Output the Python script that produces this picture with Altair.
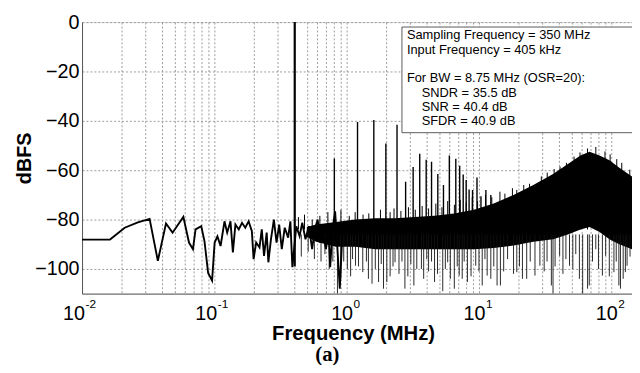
import altair as alt
import pandas as pd

# ---------------- data ----------------
# low-frequency part of the spectrum (single visible trace), MHz / dBFS
lf_freq = [0.0100, 0.01627, 0.0210, 0.0264, 0.0324, 0.0374, 0.0431, 0.0483,
           0.0583, 0.0643, 0.0689, 0.0721, 0.0796, 0.0842, 0.0897, 0.0961,
           0.1005, 0.1055, 0.1114, 0.1193, 0.1250, 0.1324, 0.1380, 0.1443,
           0.1529, 0.1618, 0.1713, 0.1815, 0.1921, 0.1979, 0.2070, 0.2194,
           0.2282, 0.2374, 0.2486, 0.2560, 0.2677, 0.2818, 0.2951, 0.3090,
           0.3233, 0.3404, 0.3610, 0.3755, 0.3887, 0.4163, 0.4406, 0.4616,
           0.4884, 0.5177, 0.5480, 0.5740, 0.6040, 0.6290, 0.6590, 0.6970,
           0.7300, 0.7504, 0.7820, 0.8180, 0.8520, 0.8870, 0.9290]
lf_db = [-88.1, -88.1, -83.3, -81.1, -79.7, -96.7, -81.6, -85.3,
         -78.9, -89.3, -92.0, -84.0, -82.7, -88.7, -101.6, -104.7,
         -89.3, -86.8, -90.7, -80.7, -85.3, -80.7, -93.3, -82.0,
         -84.0, -81.3, -83.3, -80.7, -84.7, -96.0, -89.3, -91.3,
         -84.0, -94.7, -85.3, -97.3, -88.0, -80.0, -89.3, -82.0,
         -92.0, -83.3, -87.3, -80.7, -99.3, -82.7, -86.7, -81.3,
         -88.0, -82.7, -92.0, -84.0, -80.0, -89.3, -84.7, -92.0,
         -85.3, -99.3, -84.0, -76.7, -92.0, -108.0, -85.3]

# dense noise region: solid core between an upper and a lower envelope
band_freq = [0.50, 0.587, 0.828, 1.167, 1.646, 2.321, 3.27, 4.61,
             6.50, 9.17, 12.93, 18.24, 25.74, 36.3, 47.0, 58.5, 68.5,
             81.5, 96.8, 115.0, 143.4]
band_hi = [-83.0, -82.0, -81.0, -80.0, -79.5, -79.5, -79.0, -78.5,
           -77.5, -76.0, -73.5, -70.0, -66.0, -61.5, -57.5, -54.0, -52.5,
           -54.0, -56.0, -59.0, -62.5]
band_lo = [-87.0, -89.0, -91.0, -91.0, -92.0, -92.0, -92.0, -92.0,
           -92.0, -92.0, -91.5, -90.5, -89.0, -88.0, -86.0, -84.0, -83.0,
           -85.0, -88.0, -90.0, -92.0]

# input tone
tone_freq = [0.405]
tone_top = [0.0]
tone_bottom = [-99.0]

# harmonic / spur peaks
spike_freq = [0.807, 1.208, 1.604, 1.978, 2.402, 2.79, 3.18, 3.566, 3.99,
              4.38, 4.885, 5.39, 5.97, 6.68, 7.15, 7.60, 8.00, 8.42, 8.94,
              9.66, 10.35, 11.28, 12.29]
spike_top = [-55.3, -40.5, -39.7, -49.2, -41.6, -64.7, -58.7, -53.3, -55.8,
             -56.6, -61.5, -66.0, -54.0, -55.4, -58.2, -61.7, -64.0, -67.8, -68.0,
             -63.0, -70.5, -68.0, -70.0]

# ragged upper fringe of the noise floor
fringe_freq = [0.432, 0.48, 0.549, 0.627, 0.721, 0.905, 1.046, 1.159, 1.33,
               1.47, 1.80, 2.13, 2.28, 2.57, 2.93, 3.30, 3.72, 4.16, 4.72,
               5.25, 5.80, 6.52, 7.22, 8.01, 8.89, 9.76, 11.2, 12.5, 14.4,
               15.7, 17.9, 19.3, 21.8, 24.1, 29.6, 32.8, 37.0, 41.0, 45.8,
               52.3, 58.0, 66.1, 76.4, 89.6, 98.0, 110.0, 120.0, 138.0]
fringe_top = [-79.0, -78.0, -80.0, -78.5, -77.0, -76.0, -78.5, -77.0, -78.0,
              -77.5, -76.0, -77.0, -75.5, -76.5, -75.0, -76.0, -74.5, -75.5, -73.5,
              -75.0, -72.5, -74.0, -72.0, -73.0, -71.0, -72.5, -70.0, -71.0, -68.7,
              -69.5, -67.3, -68.0, -66.0, -65.5, -62.5, -61.0, -59.5, -58.5, -57.0,
              -54.5, -52.8, -51.2, -50.6, -52.4, -53.6, -55.5, -57.0, -59.8]

# downward noise dips below the core
dip_freq = [0.454, 0.512, 0.570, 0.640, 0.685, 0.738, 0.786, 0.852, 0.902,
            0.950, 1.012, 1.071, 1.108, 1.167, 1.229, 1.323, 1.41, 1.46,
            1.555, 1.646, 1.742, 1.825, 1.898, 2.012, 2.13, 2.24, 2.321,
            2.486, 2.618, 2.756, 2.90, 3.055, 3.22, 3.388, 3.672, 3.82,
            4.03, 4.16, 4.38, 4.615, 4.86, 5.323, 5.57, 5.80, 6.075, 6.51,
            6.85, 7.09, 7.47, 7.73, 8.18, 8.71, 9.45, 10.0, 10.58, 11.09,
            11.53, 12.29, 12.94, 13.70, 14.52, 15.37, 16.45, 18.25, 19.31,
            20.23, 21.3, 22.94, 24.4, 26.50, 28.87, 31.1, 32.7, 35.24, 36.28,
            37.6, 40.71, 43.1, 45.4, 48.33, 51.2, 53.9, 57.41, 60.76, 66.21,
            68.18, 72.1, 76.35, 80.0, 85.67, 90.69, 96.6, 104.7, 109.0, 114.1,
            117.3, 123.0, 127.8, 131.6, 138.6]
dip_bottom = [-95.0, -93.0, -96.0, -97.0, -94.0, -100.0, -97.0, -110.0, -104.0,
              -97.0, -100.0, -103.0, -96.0, -98.7, -99.0, -101.3, -97.0, -104.0,
              -106.0, -100.0, -105.3, -98.0, -108.0, -105.3, -103.0, -99.0, -97.3,
              -102.0, -97.0, -108.0, -103.0, -98.0, -106.7, -100.0, -100.0, -104.0,
              -96.0, -101.0, -97.0, -105.3, -102.0, -109.0, -100.0, -97.3, -104.0, -108.0,
              -99.0, -102.7, -104.0, -97.0, -105.3, -103.0, -98.7, -101.0, -106.7, -96.0,
              -102.7, -104.0, -99.0, -106.7, -106.7, -101.0, -96.0, -102.0, -101.3,
              -99.0, -104.0, -104.0, -97.0, -102.7, -98.7, -101.0, -97.0, -106.7, -110.0,
              -99.0, -94.7, -102.0, -96.0, -98.7, -100.0, -94.0, -104.0, -110.0, -108.0,
              -106.7, -97.0, -92.0, -100.0, -102.7, -94.7, -103.0, -101.3, -97.0, -106.7,
              -108.0, -104.0, -101.3, -98.7, -95.0]

# axis ticks
y_ticks = [-100, -80, -60, -40, -20, 0]
x_label_exponents = [-2, -1, 0, 1, 2]
grid_multipliers = [1, 2, 3, 4, 5, 6, 7, 8, 9]

# annotation text
box_lines_top = ["Sampling Frequency = 350 MHz", "Input Frequency = 405 kHz"]
box_line_bw = ["For BW = 8.75 MHz (OSR=20):"]
box_lines_metrics = ["SNDR = 35.5 dB", "SNR = 40.4 dB", "SFDR = 40.9 dB"]
x_title = "Frequency (MHz)"
y_title = "dBFS"
caption = "(a)"

# ---------------- chart ----------------
FMIN, FMAX = 0.01, 143.4
W, H = 557, 275
FONT = "Liberation Sans"

grid_vals = [m * 10.0 ** d for d in range(-2, 3) for m in grid_multipliers
             if m * 10.0 ** d <= FMAX]

xscale = alt.Scale(type="log", domain=[FMIN, FMAX], nice=False)
yscale = alt.Scale(domain=[-110, 0], nice=False)

x_axis = alt.Axis(values=grid_vals, labels=False, ticks=False, grid=True,
                  gridDash=[2, 2], gridColor="#9a9a9a", gridWidth=1,
                  domainColor="#555", title=x_title, titleFont=FONT,
                  titleFontSize=20.5, titleFontWeight="bold", titleColor="black",
                  titleX=274.5, titleY=46.5, titleBaseline="alphabetic",
                  titleAlign="center")
y_axis = alt.Axis(values=y_ticks, ticks=False, grid=True, gridDash=[2, 2],
                  gridColor="#9a9a9a", gridWidth=1, domainColor="#555",
                  labelFont=FONT, labelFontSize=20, labelColor="black",
                  labelPadding=3, title=y_title, titleFont=FONT,
                  titleFontSize=20, titleFontWeight="bold", titleColor="black",
                  titleX=-58, titleY=H / 2, titleAngle=-90,
                  titleBaseline="middle", titleAlign="center")


def X(field="f"):
    return alt.X(f"{field}:Q", scale=xscale, axis=x_axis)


def Y(field):
    return alt.Y(f"{field}:Q", scale=yscale, axis=y_axis)


lf_df = pd.DataFrame({"f": lf_freq, "db": lf_db})
band_df = pd.DataFrame({"f": band_freq, "hi": band_hi, "lo": band_lo})
tone_df = pd.DataFrame({"f": tone_freq, "top": tone_top, "bot": tone_bottom})
spike_df = pd.DataFrame({"f": spike_freq, "top": spike_top})
fringe_df = pd.DataFrame({"f": fringe_freq, "top": fringe_top})
dip_df = pd.DataFrame({"f": dip_freq, "bot": dip_bottom})
lab_df = pd.DataFrame({"e": x_label_exponents,
                       "f": [10.0 ** e for e in x_label_exponents],
                       "base": ["10"] * len(x_label_exponents),
                       "sup": [str(e) for e in x_label_exponents]})
one = pd.DataFrame({"k": [0]})

band = alt.Chart(band_df).mark_area(color="black", clip=True).encode(
    x=X(), y=Y("hi"), y2="lo:Q")

dips = alt.Chart(dip_df).mark_rule(color="#111", strokeWidth=0.9, clip=True).encode(
    x=X(), y=Y("bot"), y2=alt.datum(-86))

fringe = alt.Chart(fringe_df).mark_rule(color="black", strokeWidth=1, clip=True).encode(
    x=X(), y=Y("top"), y2=alt.datum(-84))

spikes = alt.Chart(spike_df).mark_rule(color="black", strokeWidth=1.4, clip=True).encode(
    x=X(), y=Y("top"), y2=alt.datum(-84))

lf = alt.Chart(lf_df).mark_line(color="black", strokeWidth=1.9, clip=True).encode(
    x=X(), y=Y("db"))

tone = alt.Chart(tone_df).mark_rule(color="black", strokeWidth=2.2, clip=True).encode(
    x=X(), y=Y("top"), y2="bot:Q")

box = alt.Chart(one).mark_rect(fill="white", stroke="#333", strokeWidth=0.8).encode(
    x=alt.value(324), x2=alt.value(562), y=alt.value(5), y2=alt.value(112))

txt_kw = dict(font=FONT, fontSize=13, color="black", align="left",
              baseline="alphabetic", lineHeight=14.4)
t1 = alt.Chart(one).mark_text(**txt_kw).encode(
    x=alt.value(329), y=alt.value(17.5), text=alt.value(box_lines_top))
t2 = alt.Chart(one).mark_text(**txt_kw).encode(
    x=alt.value(329), y=alt.value(61), text=alt.value(box_line_bw))
t3 = alt.Chart(one).mark_text(**txt_kw).encode(
    x=alt.value(344), y=alt.value(75.5), text=alt.value(box_lines_metrics))


def lab_layer(field, cond, dx, y, size, align):
    return alt.Chart(lab_df).transform_filter(cond).mark_text(
        font=FONT, fontSize=size, color="black", align=align,
        baseline="alphabetic", dx=dx).encode(
        x=X(), y=alt.value(y), text=f"{field}:N")


labs = [
    lab_layer("base", "datum.e < 0", 3, 301.5, 20, "right"),
    lab_layer("base", "datum.e >= 0", 6.5, 301.5, 20, "right"),
    lab_layer("sup", "datum.e < 0", 3.5, 289.3, 12, "left"),
    lab_layer("sup", "datum.e >= 0", 7, 289.3, 12, "left"),
]

cap = alt.Chart(one).mark_text(font="Liberation Serif", fontSize=21,
                               fontWeight="bold", color="black",
                               align="center", baseline="alphabetic").encode(
    x=alt.value(248.5), y=alt.value(343.5), text=alt.value(caption))

chart = alt.layer(band, dips, fringe, spikes, lf, tone, box, t1, t2, t3, *labs, cap).properties(
    width=W, height=H,
    padding={"left": 75, "top": 12, "right": 0, "bottom": 70},
    autosize=alt.AutoSizeParams(type="none"),
).configure_view(stroke="#8a8a8a", strokeWidth=1).configure(background="white")

chart.save("out.html", embed_options={"renderer": "svg", "actions": False})
